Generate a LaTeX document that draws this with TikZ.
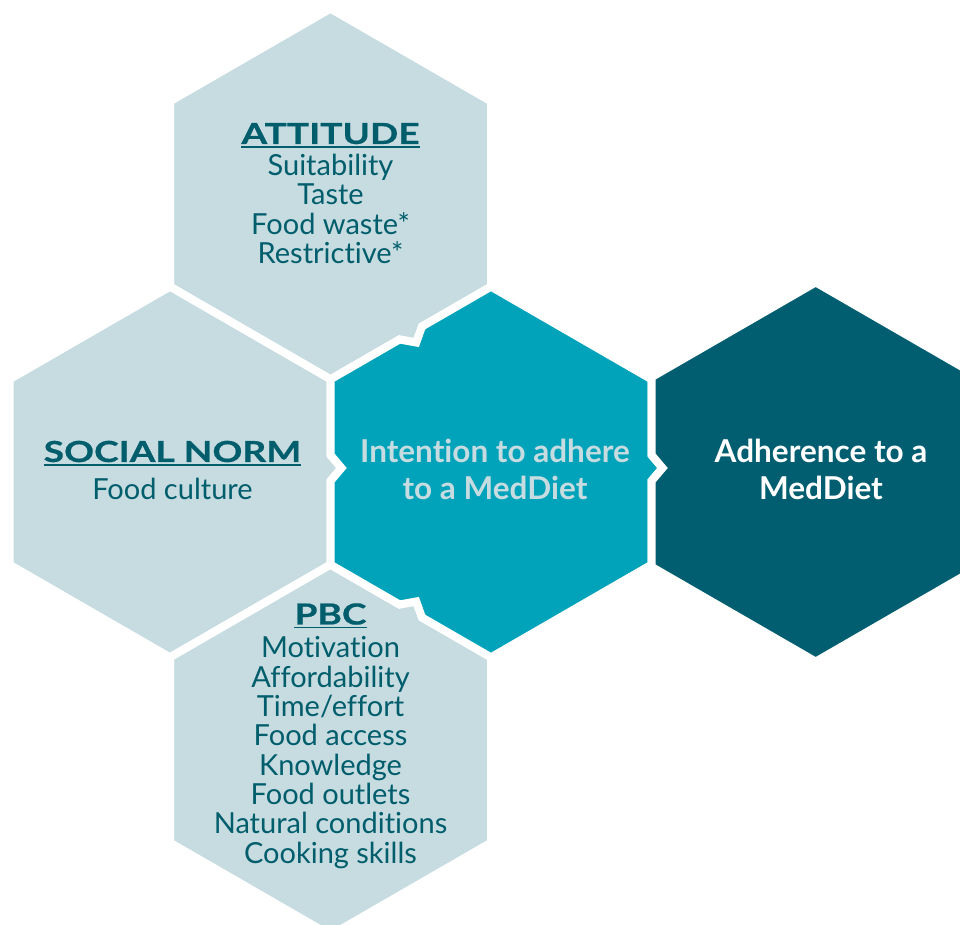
\documentclass[tikz,border=0pt]{standalone}
\usepackage{fontspec}
\setmainfont{Lato}[Ligatures=NoCommon]
\newfontfamily\headfont{Lato}[FakeStretch=1.28, FakeBold=0.6, Ligatures=NoCommon]
\definecolor{hexlight}{HTML}{C6DCE0}
\definecolor{hexteal}{HTML}{00A3BA}
\definecolor{hexdark}{HTML}{005E70}
\definecolor{textc}{HTML}{005D6C}
\tikzset{
  hex/.style={draw=white, line width=8pt, line join=miter},
  body/.style={font=\fontsize{29}{31}\selectfont, text=textc, anchor=base, inner sep=0pt},
  head/.style={font=\headfont\bfseries\fontsize{29}{31}\selectfont, text=textc, anchor=base, inner sep=0pt},
  mid/.style={font=\bfseries\fontsize{31.5}{33}\selectfont, anchor=base, inner sep=0pt},
  uline/.style={textc, line width=1.8pt}
}
\begin{document}
\begin{tikzpicture}[x=1pt,y=1pt]
\useasboundingbox (0,0) rectangle (960,925);
\clip (0,0) rectangle (960,925);
% ATTITUDE hexagon
\path[hex, fill=hexlight] (330.5,916.33) -- (170,823.67) -- (170,638.33) -- (330.5,545.67)
  -- (399.49,585.5) -- (416.25,582.47) -- (422.01,598.5) -- (491,638.33) -- (491,823.67) -- cycle;
% SOCIAL NORM hexagon
\path[hex, fill=hexlight] (170,638.33) -- (9.5,545.67) -- (9.5,360.33) -- (170,267.67) -- (330.5,360.33)
  -- (330.5,444) -- (341.5,457) -- (330.5,470) -- (330.5,545.67) -- cycle;
% PBC hexagon
\path[hex, fill=hexlight] (330.5,360.33) -- (170,267.67) -- (170,82.33) -- (330.5,-10.33) -- (491,82.33)
  -- (491,267.67) -- (422.01,307.5) -- (416.25,323.53) -- (399.49,320.5) -- cycle;
% Intention hexagon
\path[hex, fill=hexteal] (491,638.33) -- (422.01,598.5) -- (416.25,582.47) -- (399.49,585.5) -- (330.5,545.67)
  -- (330.5,470) -- (341.5,457) -- (330.5,444) -- (330.5,360.33)
  -- (399.49,320.5) -- (416.25,323.53) -- (422.01,307.5) -- (491,267.67)
  -- (651.5,360.33) -- (651.5,444) -- (662.5,457) -- (651.5,470) -- (651.5,545.67) -- cycle;
% Adherence hexagon
\path[hex, fill=hexdark] (815.7,642.6) -- (651.5,547.8) -- (651.5,470) -- (662.5,457) -- (651.5,444)
  -- (651.5,358.2) -- (815.7,263.4) -- (979.9,358.2) -- (979.9,547.8) -- cycle;

% ATTITUDE text
\node[head] (atth) at (330.5,781) {ATTITUDE};
\draw[uline] ([yshift=-3pt]atth.base west) -- ([yshift=-3pt]atth.base east);
\node[body] (att1) at (330.5,749) {Suitability};
\node[body] (att2) at (330.5,720) {Taste};
\node[body] (att3) at (330.5,690.5) {Food waste*};
\node[body] (att4) at (330.5,661) {Restrictive*};

% SOCIAL NORM text
\node[head] (soch) at (172.5,463) {SOCIAL NORM};
\draw[uline] ([yshift=-3pt]soch.base west) -- ([yshift=-3pt]soch.base east);
\node[body] (soc1) at (172.5,425.5) {Food culture};

% PBC text
\node[head] (pbch) at (330.5,300.5) {PBC};
\draw[uline] ([yshift=-3pt]pbch.base west) -- ([yshift=-3pt]pbch.base east);
\node[body] (pbc1) at (330.5,267) {Motivation};
\node[body] (pbc2) at (330.5,237.7) {Affordability};
\node[body] (pbc3) at (330.5,208.4) {Time/effort};
\node[body] (pbc4) at (330.5,179.1) {Food access};
\node[body] (pbc5) at (330.5,149.8) {Knowledge};
\node[body] (pbc6) at (330.5,120.5) {Food outlets};
\node[body] (pbc7) at (330.5,91.2) {Natural conditions};
\node[body] (pbc8) at (330.5,61.9) {Cooking skills};

% Intention text
\node[mid, text=hexlight] (int1) at (495,462.5) {Intention to adhere};
\node[mid, text=hexlight] (int2) at (495,425.5) {to a MedDiet};

% Adherence text
\node[mid, text=white] (adh1) at (821,462.5) {Adherence to a};
\node[mid, text=white] (adh2) at (821,425.5) {MedDiet};
\end{tikzpicture}
\end{document}
